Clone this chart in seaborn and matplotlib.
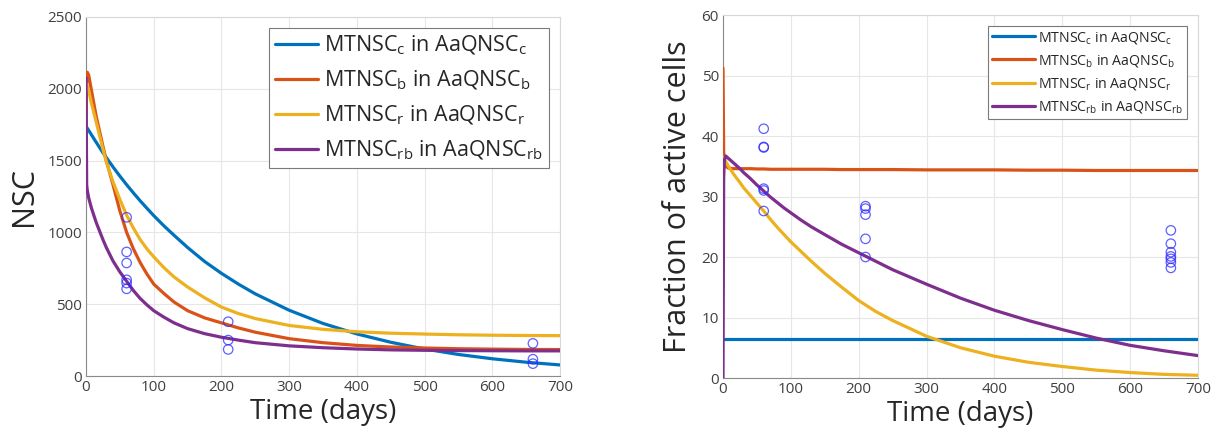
import matplotlib
matplotlib.use("Agg")
import matplotlib.pyplot as plt
import seaborn as sns
import pandas as pd

# ---------------- data ----------------
t = [0, 1, 2, 4, 8, 15, 25, 30, 40, 50, 60, 70, 80, 90, 100, 115, 130, 150, 175, 200,
     225, 250, 300, 350, 400, 450, 500, 550, 600, 650, 700]

nsc_c = [1740, 1732, 1725, 1710, 1680, 1628, 1555, 1521, 1455, 1392, 1332, 1275, 1220, 1168, 1117, 1046,
         980, 895, 798, 715, 640, 572, 458, 366, 293, 235, 188, 150, 120, 96, 77]
nsc_b = [1650, 2080, 2115, 2095, 1990, 1810, 1600, 1500, 1330, 1150, 1000, 885, 790, 710, 640, 575,
         515, 455, 405, 370, 335, 305, 260, 232, 213, 202, 195, 190, 187, 185, 184]
nsc_r = [2040, 2030, 2015, 1990, 1900, 1770, 1580, 1490, 1350, 1230, 1120, 1030, 950, 885, 830, 755,
         690, 620, 545, 480, 435, 400, 352, 325, 308, 298, 292, 287, 284, 282, 281]
nsc_rb = [2075, 1330, 1290, 1240, 1170, 1070, 950, 895, 800, 725, 660, 595, 540, 495, 455, 410,
          370, 330, 295, 270, 250, 232, 210, 197, 188, 182, 179, 177, 176, 175, 175]

fr_c = [6.4, 6.4, 6.4, 6.4, 6.4, 6.4, 6.4, 6.4, 6.4, 6.4, 6.4, 6.4, 6.4, 6.4, 6.4, 6.4,
        6.4, 6.4, 6.4, 6.4, 6.4, 6.4, 6.4, 6.4, 6.4, 6.4, 6.4, 6.4, 6.4, 6.4, 6.4]
fr_b = [51.2, 37.5, 35.8, 35.0, 34.7, 34.6, 34.6, 34.6, 34.6, 34.55, 34.55, 34.5, 34.5, 34.5, 34.5, 34.5,
        34.5, 34.5, 34.45, 34.45, 34.45, 34.45, 34.4, 34.4, 34.4, 34.35, 34.35, 34.3, 34.3, 34.3, 34.3]
fr_r = [36.5, 36.4, 36.2, 35.8, 35.0, 33.8, 32.3, 31.5, 30.2, 28.9, 27.6, 26.2, 24.9, 23.7, 22.5, 20.9,
        19.3, 17.3, 15.0, 12.8, 11.0, 9.5, 6.9, 5.0, 3.6, 2.6, 1.9, 1.3, 0.9, 0.6, 0.45]
fr_rb = [0.0, 33.0, 36.0, 36.7, 36.3, 35.6, 34.6, 34.0, 33.0, 31.9, 30.9, 29.9, 29.0, 28.1, 27.3, 26.1,
         25.0, 23.7, 22.1, 20.7, 19.3, 17.9, 15.5, 13.2, 11.2, 9.5, 8.0, 6.6, 5.4, 4.5, 3.7]

obs_nsc_t = [60, 60, 60, 60, 60, 60, 210, 210, 210, 660, 660, 660]
obs_nsc_v = [1105, 864, 787, 670, 647, 607, 378, 250, 185, 227, 117, 86]

obs_fr_t = [60, 60, 60, 60, 60, 60, 210, 210, 210, 210, 210, 660, 660, 660, 660, 660, 660, 660]
obs_fr_v = [41.2, 38.2, 38.1, 31.3, 31.0, 27.6, 28.4, 28.0, 27.0, 23.0, 20.0, 24.4, 22.2, 20.8, 20.1, 19.7, 19.1, 18.2]

labels = [r"$\mathregular{MTNSC_c}$ in $\mathregular{AaQNSC_c}$",
          r"$\mathregular{MTNSC_b}$ in $\mathregular{AaQNSC_b}$",
          r"$\mathregular{MTNSC_r}$ in $\mathregular{AaQNSC_r}$",
          r"$\mathregular{MTNSC_{rb}}$ in $\mathregular{AaQNSC_{rb}}$"]
colors = ["#0072BD", "#D95319", "#EDB120", "#7E2F8E"]
xticks = [0, 100, 200, 300, 400, 500, 600, 700]

# ---------------- style ----------------
sns.set_style("white")
plt.rcParams["font.family"] = ["Open Sans", "DejaVu Sans"]
plt.rcParams["mathtext.fontset"] = "custom"
plt.rcParams["mathtext.rm"] = "Open Sans"

fig = plt.figure(figsize=(12.16, 4.36), dpi=100)
ax1 = fig.add_axes([86 / 1216, 1 - 376 / 436, 474 / 1216, 359 / 436])
ax2 = fig.add_axes([723 / 1216, 1 - 378 / 436, 475 / 1216, 363 / 436])


def draw(ax, series, obs_t, obs_v, ylim, yticks, ylabel, lfs, hl, bap, ls):
    for vals, col, lab in zip(series, colors, labels):
        df = pd.DataFrame({"t": t, "v": vals})
        sns.lineplot(data=df, x="t", y="v", color=col, lw=2.3, label=lab,
                     estimator=None, sort=False, ax=ax, zorder=3)
    sns.scatterplot(x=obs_t, y=obs_v, ax=ax, marker="o", s=46,
                    facecolor="none", edgecolor="#2a2aff", linewidth=0.9,
                    alpha=0.75, zorder=4, legend=False)
    ax.set_xlim(0, 700)
    ax.set_ylim(*ylim)
    ax.set_xticks(xticks)
    ax.set_yticks(yticks)
    ax.grid(True, color="#e6e6e6", lw=0.8)
    ax.set_axisbelow(True)
    for s in ["left", "bottom"]:
        ax.spines[s].set_color("#8a8a8a")
        ax.spines[s].set_linewidth(0.8)
    for s in ["top", "right"]:
        ax.spines[s].set_color("#d8d8d8")
        ax.spines[s].set_linewidth(0.8)
    ax.tick_params(direction="in", length=4, width=0.8, color="#8a8a8a",
                   labelsize=11, labelcolor="#404040", pad=3)
    ax.set_xlabel("Time (days)", fontsize=20, color="#262626", labelpad=2)
    ax.set_ylabel(ylabel, fontsize=22, color="#262626", labelpad=6)
    leg = ax.legend(loc="upper right", fontsize=lfs, handlelength=hl,
                    handletextpad=0.25, borderaxespad=bap, labelspacing=ls,
                    fancybox=False, framealpha=1, edgecolor="#7a7a7a",
                    borderpad=0.3)
    leg.get_frame().set_linewidth(0.8)
    for txt in leg.get_texts():
        txt.set_color("#262626")


draw(ax1, [nsc_c, nsc_b, nsc_r, nsc_rb], obs_nsc_t, obs_nsc_v,
     (0, 2500), [0, 500, 1000, 1500, 2000, 2500], "NSC", 15.5, 2.0, 0.5, 0.54)
draw(ax2, [fr_c, fr_b, fr_r, fr_rb], obs_fr_t, obs_fr_v,
     (0, 60), [0, 10, 20, 30, 40, 50, 60], "Fraction of active cells", 10.2, 3.0, 0.75, 0.5)

fig.savefig("out.png", dpi=100)
